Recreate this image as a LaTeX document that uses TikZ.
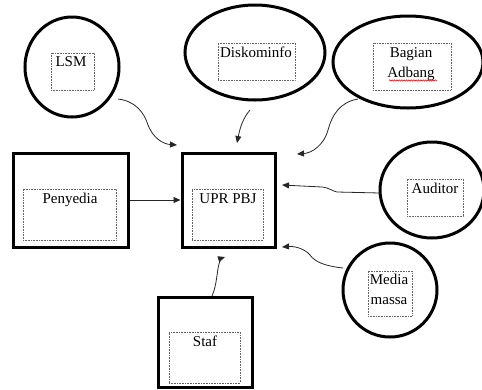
\documentclass[tikz,border=0pt]{standalone}
\usepackage{fontspec}
\setmainfont{Liberation Serif}
\usetikzlibrary{arrows.meta,shapes.geometric,decorations.pathmorphing}
\begin{document}
\begin{tikzpicture}[x=1pt,y=-1pt,
  outer/.style={draw,line width=3pt,inner sep=0pt},
  oval/.style={outer,ellipse},
  sq/.style={outer,rectangle},
  inbox/.style={draw=black!60,line width=0.6pt,dash pattern=on 0.6pt off 1pt,inner sep=0pt,rectangle},
  lbl/.style={font=\fontsize{15}{20}\selectfont,align=center,inner sep=0pt,anchor=base},
  conn/.style={line width=0.8pt,draw=black!85,-{Triangle[length=7pt,width=6pt]}}]
\useasboundingbox (0,0) rectangle (482,389);
% outer shapes
\node[oval,minimum width=94,minimum height=100] (lsm) at (72,67) {};
\node[oval,minimum width=140,minimum height=95] (disko) at (255,52.5) {};
\node[oval,minimum width=150,minimum height=92] (bagian) at (408,62) {};
\node[oval,minimum width=104,minimum height=96] (aud) at (432,190) {};
\node[oval,minimum width=94,minimum height=94] (media) at (390,290) {};
\node[sq,minimum width=115,minimum height=94] (pen) at (70.5,200) {};
\node[sq,minimum width=93,minimum height=94] (upr) at (228.5,200) {};
\node[sq,minimum width=94,minimum height=90] (staf) at (205,342) {};
% inner dotted boxes
\node[inbox,minimum width=43,minimum height=37] (lsmb) at (72.5,71.5) {};
\node[inbox,minimum width=77,minimum height=37] (diskob) at (256.5,61.5) {};
\node[inbox,minimum width=78,minimum height=47] (bagianb) at (412,66.5) {};
\node[inbox,minimum width=93,minimum height=51] (penb) at (69.5,214.5) {};
\node[inbox,minimum width=71,minimum height=51] (uprb) at (227.5,214.5) {};
\node[inbox,minimum width=56,minimum height=37] (audb) at (435,197.5) {};
\node[inbox,minimum width=44,minimum height=45] (mediab) at (390,293.5) {};
\node[inbox,minimum width=71,minimum height=51] (stafb) at (204.5,357.5) {};
% labels (base anchor = baseline of last line)
\node[lbl] (lsmt) at (71,66) {LSM};
\node[lbl] (diskot) at (256,57) {Diskominfo};
\node[lbl] (bagiant) at (411,77) {Bagian\\Adbang};
\node[lbl] (pent) at (70,203) {Penyedia};
\node[lbl] (uprt) at (228,203) {UPR PBJ};
\node[lbl] (audt) at (435,193) {Auditor};
\node[lbl] (mediat) at (389,304) {Media\\massa};
\node[lbl] (staft) at (205,346) {Staf};
% spell-check squiggle
\coordinate (sqA) at (389,80.5);
\coordinate (sqB) at (437,80.5);
\draw[red!80!black,line width=0.5pt,decorate,decoration={snake,amplitude=0.7pt,segment length=2.4pt}] (sqA) -- (sqB);
% connector end points
\coordinate (lsmS) at (118,99);
\coordinate (lsmT) at (177,145);
\coordinate (diskoS) at (250,110);
\coordinate (diskoT) at (237,143);
\coordinate (bagS) at (358,99);
\coordinate (bagT) at (297,154);
\coordinate (audS) at (380,193);
\coordinate (audT) at (282,185);
\coordinate (medS) at (343,268);
\coordinate (medT) at (282,247);
\coordinate (stafS) at (212,296);
\coordinate (stafT) at (225,257);
% connectors
\draw[conn] (lsmS) .. controls (135,101) and (144,112) .. (148,125) .. controls (153,138) and (163,144) .. (lsmT);
\draw[conn] (diskoS) .. controls (243,118) and (240,128) .. (diskoT);
\draw[conn] (bagS) .. controls (340,102) and (332,115) .. (328,130) .. controls (324,145) and (312,153) .. (bagT);
\draw[conn] (audS) -- (337,192) .. controls (332,191) and (330,188) .. (322,187) -- (audT);
\draw[conn] (medS) .. controls (325,266) and (315,262) .. (310,255) .. controls (305,249) and (295,246) .. (medT);
\draw[conn] (stafS) .. controls (217,285) and (217,270) .. (219,264) .. controls (220,260) and (222,258) .. (stafT);
\draw[conn] (pen.east) -- (upr.west);
\end{tikzpicture}
\end{document}
